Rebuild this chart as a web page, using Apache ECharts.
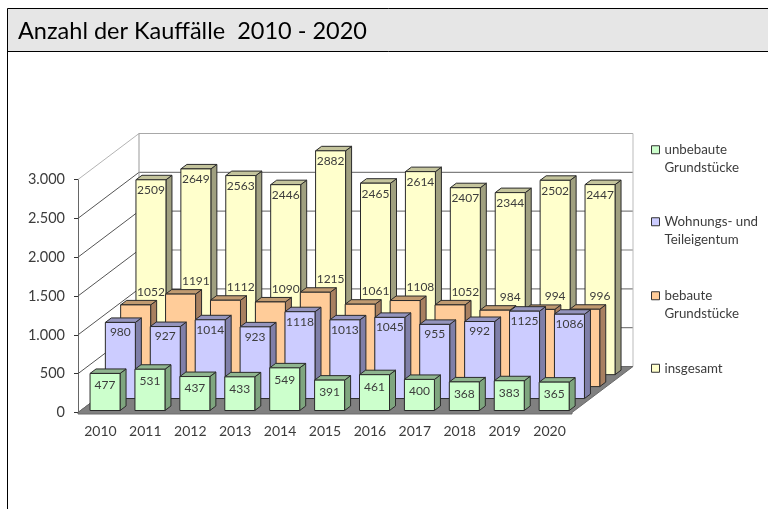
<!DOCTYPE html>
<html><head><meta charset="utf-8">
<style>html,body{margin:0;padding:0;background:#fff}#c{width:768px;height:509px}</style>
<script src="https://cdn.jsdelivr.net/npm/echarts@6/dist/echarts.min.js"></script>
</head><body><div id="c"></div>
<script>
const years = ['2010','2011','2012','2013','2014','2015','2016','2017','2018','2019','2020'];
const unbebaut = [477,531,437,433,549,391,461,400,368,383,365];
const wohnungen = [980,927,1014,923,1118,1013,1045,955,992,1125,1086];
const bebaut = [1052,1191,1112,1090,1215,1061,1108,1052,984,994,996];
const insgesamt = [2509,2649,2563,2446,2882,2465,2614,2407,2344,2502,2447];
const yTicks = [0,500,1000,1500,2000,2500,3000];
const seriesNames = ['unbebaute Grundstücke','Wohnungs- und Teileigentum','bebaute Grundstücke','insgesamt'];
const legendLabels = ['unbebaute\nGrundstücke','Wohnungs- und\nTeileigentum','bebaute\nGrundstücke','insgesamt'];
const FONT = 'Lato';
const TEXT = '#3c3c3c';

const rows = [
  {values:unbebaut,  front:'#ccffcc', top:'#8fb58f', side:'#7fa67f', lx:0, ly:12},
  {values:wohnungen, front:'#ccccff', top:'#9494bd', side:'#7f7fa8', lx:0, ly:10},
  {values:bebaut,    front:'#ffcc99', top:'#c09a70', side:'#a88060', lx:15.3, ly:-13},
  {values:insgesamt, front:'#ffffcc', top:'#c4c49c', side:'#a0a080', lx:0, ly:10.5}
];
const BAR_W = 30, D_X = 6, D_Y = 4.5, ROW_X0 = 4.6, ROW_Y0 = 2, ROW_X = 15.3, ROW_Y = 11.95;
const WALL_X = 61, WALL_Y = 46;
const EDGE = '#2a2a2a';

function barItem(r){
  return function(params, api){
    const c = api.coord([api.value(0), api.value(1)]);
    const b = api.coord([api.value(0), 0]);
    const l = c[0] + ROW_X0 + r*ROW_X - BAR_W/2, rr = l + BAR_W;
    const t = c[1] - ROW_Y0 - r*ROW_Y, bt = b[1] - ROW_Y0 - r*ROW_Y;
    const st = {stroke:EDGE, lineWidth:1};
    return {type:'group', children:[
      {type:'polygon', shape:{points:[[rr,t],[rr+D_X,t-D_Y],[rr+D_X,bt-D_Y],[rr,bt]]}, style:Object.assign({fill:rows[r].side},st)},
      {type:'polygon', shape:{points:[[l,t],[l+D_X,t-D_Y],[rr+D_X,t-D_Y],[rr,t]]}, style:Object.assign({fill:rows[r].top},st)},
      {type:'polygon', shape:{points:[[l,t],[rr,t],[rr,bt],[l,bt]]}, style:Object.assign({fill:rows[r].front},st)}
    ]};
  };
}
function labelItem(r){
  return function(params, api){
    const c = api.coord([api.value(0), api.value(1)]);
    const cx = c[0] + ROW_X0 + r*ROW_X + rows[r].lx;
    const cy = c[1] - ROW_Y0 - r*ROW_Y + rows[r].ly;
    return {type:'text', style:{x:cx, y:cy, text:String(api.value(1)), align:'center', verticalAlign:'middle',
      font:'12px '+FONT, fill:TEXT}};
  };
}
function floorItem(params, api){
  const cs = params.coordSys, x0 = cs.x, x1 = cs.x + cs.width, y = api.coord([0,0])[1];
  return {type:'group', children:[
    {type:'polygon', shape:{points:[[x0,y+1.5],[x0,y],[x0+WALL_X,y-WALL_Y],[x1+WALL_X,y-WALL_Y],[x1,y],[x1,y+1.5]]},
     style:{fill:'#808080', stroke:'#6a6a6a', lineWidth:1}}
  ]};
}
function wallItem(params, api){
  const cs = params.coordSys, x0 = cs.x, x1 = cs.x + cs.width, v = api.value(1), y = api.coord([0,v])[1];
  const isTop = v === yTicks[yTicks.length-1];
  const col = isTop ? '#a8a8a8' : '#808080';
  const diag = isTop ? '#b4b4b4' : '#555';
  const ch = [
    {type:'line', shape:{x1:x0,y1:y,x2:x0+WALL_X,y2:y-WALL_Y}, style:{stroke:diag,lineWidth:1}},
    {type:'line', shape:{x1:x0+WALL_X,y1:y-WALL_Y,x2:x1+WALL_X,y2:y-WALL_Y}, style:{stroke:col,lineWidth:1.2}}
  ];
  if (isTop) {
    const y0 = api.coord([0,0])[1];
    ch.push({type:'line', shape:{x1:x0+WALL_X,y1:y-WALL_Y,x2:x0+WALL_X,y2:y0-WALL_Y}, style:{stroke:'#999',lineWidth:1}});
    ch.push({type:'line', shape:{x1:x1+WALL_X,y1:y-WALL_Y,x2:x1+WALL_X,y2:y0-WALL_Y}, style:{stroke:'#bbb',lineWidth:1}});
  }
  return {type:'group', children:ch};
}

const series = [
  {type:'custom', name:'wall', silent:true, z:1, coordinateSystem:'cartesian2d', renderItem:wallItem,
   data:yTicks.map(v=>[0,v]), encode:{x:0,y:1}, clip:false},
  {type:'custom', name:'floor', silent:true, z:2, coordinateSystem:'cartesian2d', renderItem:floorItem,
   data:[[0,0]], encode:{x:0,y:1}, clip:false}
];
[3,2,1,0].forEach(r=>{
  series.push({type:'custom', name:seriesNames[r], z:3+(3-r), coordinateSystem:'cartesian2d', clip:false,
    renderItem:barItem(r), itemStyle:{color:rows[r].front},
    data:rows[r].values.map((v,i)=>[i,v]), encode:{x:0,y:1}});
});
[3,2,1,0].forEach(r=>{
  series.push({type:'custom', name:'label'+r, silent:true, z:10, coordinateSystem:'cartesian2d', clip:false,
    renderItem:labelItem(r), data:rows[r].values.map((v,i)=>[i,v]), encode:{x:0,y:1}});
});

const legendTops = [123.5,195.5,269.5,359.5];
const legends = seriesNames.map((n,i)=>({
  data:[n], left:651, top:legendTops[i], orient:'vertical', padding:0, itemWidth:8, itemHeight:8, itemGap:0,
  icon:'rect', selectedMode:false,
  itemStyle:{borderColor:'#333', borderWidth:1},
  formatter:()=>(legendLabels[i].includes('\n') ? '\n' : '') + legendLabels[i],
  textStyle:{fontFamily:FONT, fontSize:13.3, color:TEXT, lineHeight:17.5}
}));

const chart = echarts.init(document.getElementById('c'), null, {renderer:'canvas'});
chart.setOption({
  animation:false,
  backgroundColor:'#fff',
  title:{text:'Anzahl der Kauffälle  2010 - 2020', left:18, top:19, padding:0,
    textStyle:{fontFamily:FONT, fontSize:23.5, fontWeight:'normal', color:'#000'}},
  graphic:[
    {type:'rect', z:-1, shape:{x:7.5,y:8.5,width:770,height:43}, style:{fill:'#e6e6e6', stroke:'#000', lineWidth:1}},
    {type:'line', z:-1, shape:{x1:7.5,y1:51,x2:7.5,y2:509}, style:{stroke:'#000', lineWidth:1}}
  ],
  legend:legends,
  grid:{left:78, top:179.5, width:494, height:233, containLabel:false},
  xAxis:{type:'category', data:years, boundaryGap:true,
    axisLine:{show:false}, axisTick:{show:false},
    axisLabel:{fontFamily:FONT, fontSize:14, color:TEXT, margin:12, interval:0}},
  yAxis:{type:'value', min:0, max:3000, interval:500,
    axisLine:{show:true, lineStyle:{color:'#666'}}, axisTick:{show:true, length:4, lineStyle:{color:'#333'}},
    splitLine:{show:false},
    axisLabel:{fontFamily:FONT, fontSize:14.5, color:TEXT, margin:13,
      formatter:v=>String(v).replace(/\B(?=(\d{3})+$)/g,'.')}},
  series:series
});
</script></body></html>
